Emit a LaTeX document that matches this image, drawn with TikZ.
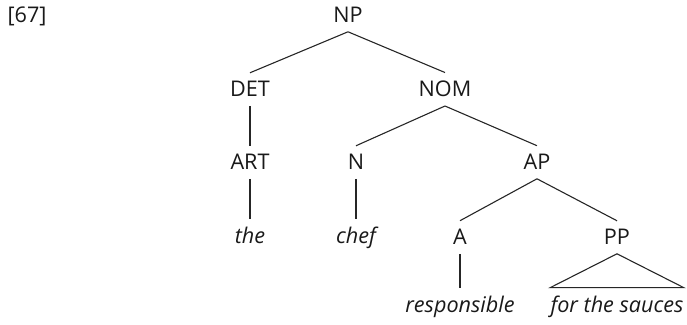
\documentclass[tikz,border=0pt]{standalone}
\usepackage{fontspec}
\setmainfont{Open Sans}
\usepackage{tikz}

\begin{document}
\begin{tikzpicture}[
    x=0.5pt, y=-0.5pt,
    cat/.style={anchor=base, inner xsep=0pt, inner ysep=4.2pt, font=\fontsize{10.8}{12}\selectfont, text=black!90},
    word/.style={cat, font=\fontsize{10.8}{12}\selectfont\itshape},
    branch/.style={line width=0.55pt, draw=black!85}
]
\useasboundingbox (0,0) rectangle (687,325);

\node[cat] (num) at (27,23) {[67]};

\node[cat] (np) at (348,23) {NP};
\node[cat] (det) at (250,97) {DET};
\node[cat] (nom) at (445,97) {NOM};
\node[cat] (art) at (250,170) {ART};
\node[cat] (n) at (356,170) {N};
\node[cat] (ap) at (537,170) {AP};
\node[word] (the) at (250,244) {the};
\node[word] (chef) at (356,244) {chef};
\node[cat] (a) at (460,245) {A};
\node[cat] (pp) at (617,245) {PP};
\node[word] (resp) at (460,313) {responsible};
\node[word] (sauces) at (617,313) {for the sauces};

\draw[branch] (np.south) -- (det.north);
\draw[branch] (np.south) -- (nom.north);
\draw[branch] (det.south) -- (art.north);
\draw[branch] (nom.south) -- (n.north);
\draw[branch] (nom.south) -- (ap.north);
\draw[branch] (art.south) -- (the.north);
\draw[branch] (n.south) -- (chef.north);
\draw[branch] (ap.south) -- (a.north);
\draw[branch] (ap.south) -- (pp.north);
\draw[branch] (a.south) -- (resp.north);
\draw[branch] (pp.south) -- (sauces.north west) -- (sauces.north east) -- cycle;
\end{tikzpicture}
\end{document}
